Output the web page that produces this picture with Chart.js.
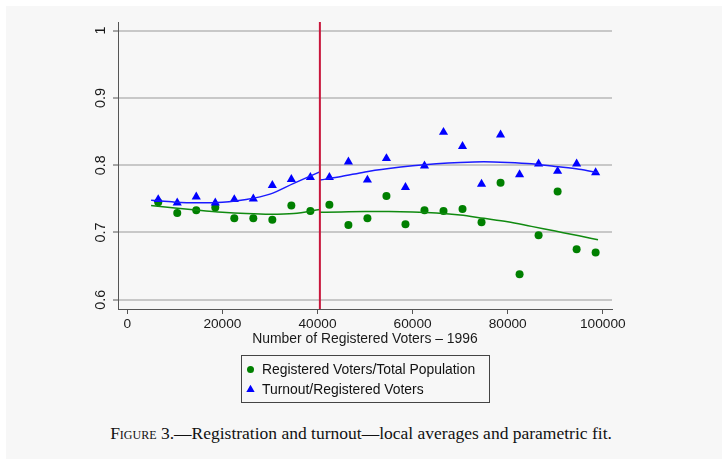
<!DOCTYPE html>
<html>
<head>
<meta charset="utf-8">
<script src="https://cdn.jsdelivr.net/npm/chart.js@4"></script>
<style>
  body { margin: 0; background: #fff; width: 722px; height: 459px; overflow: hidden; position: relative; }
  #panel { position: absolute; left: 6px; top: 6px; width: 716px; height: 453px; background: #f7f7f7; }
  #wrap { position: absolute; left: 0; top: 0; width: 716px; height: 410px; }
  #caption {
    position: absolute; left: 0; top: 423px; width: 722px; text-align: center;
    font-family: "Liberation Serif", "Times New Roman", serif; font-size: 17.5px; line-height: 20px; color: #111;
  }
</style>
</head>
<body>
<div id="panel">
  <div id="wrap"><canvas id="fig3"></canvas></div>
</div>
<div id="caption"><span style="font-variant: small-caps">Figure</span> 3.—Registration and turnout—local averages and parametric fit.</div>
<script>
const FONT = '"Liberation Sans", Arial, sans-serif';

// local averages, bins of 4000 registered voters
const binMid = [6500, 10500, 14500, 18500, 22500, 26500, 30500, 34500, 38500, 42500, 46500, 50500,
  54500, 58500, 62500, 66500, 70500, 74500, 78500, 82500, 86500, 90500, 94500, 98500];
const regShare = [0.745, 0.729, 0.733, 0.737, 0.721, 0.721, 0.719, 0.740, 0.732, 0.741, 0.711, 0.721,
  0.754, 0.712, 0.733, 0.732, 0.735, 0.715, 0.774, 0.638, 0.696, 0.761, 0.675, 0.670];
const turnout = [0.749, 0.744, 0.753, 0.744, 0.749, 0.750, 0.770, 0.779, 0.782, 0.782, 0.805, 0.778,
  0.810, 0.767, 0.799, 0.849, 0.828, 0.772, 0.845, 0.786, 0.802, 0.791, 0.802, 0.789];

// parametric fit, split at the 40500 threshold
const fitLeftX = [5000, 10000, 15000, 20000, 25000, 30000, 35000, 40500];
const regFitLeft = [0.740, 0.7365, 0.733, 0.730, 0.728, 0.727, 0.728, 0.734];
const turnFitLeft = [0.748, 0.745, 0.744, 0.745, 0.749, 0.757, 0.773, 0.790];
const fitRightX = [40500, 45000, 50000, 55000, 60000, 65000, 70000, 75000, 80000, 85000, 90000, 95000, 99000];
const regFitRight = [0.730, 0.7305, 0.731, 0.731, 0.7305, 0.729, 0.726, 0.721, 0.716, 0.709, 0.702, 0.695, 0.689];
const turnFitRight = [0.778, 0.783, 0.790, 0.795, 0.799, 0.802, 0.804, 0.805, 0.804, 0.802, 0.798, 0.794, 0.789];

const cutoff = 40500;
const xTicks = [0, 20000, 40000, 60000, 80000, 100000];
const yTicks = [0.6, 0.7, 0.8, 0.9, 1];
const yTickLabels = ['0.6', '0.7', '0.8', '0.9', '1'];

function pts(xs, ys) {
  return xs.map((x, i) => ({ x: x, y: ys[i] }));
}

function fitLine(xs, ys, color) {
  return {
    data: pts(xs, ys),
    showLine: true,
    borderColor: color,
    borderWidth: 1.5,
    pointRadius: 0,
    cubicInterpolationMode: 'monotone',
    order: 1,
  };
}

// red vertical line at the threshold
const cutoffLine = {
  id: 'cutoffLine',
  afterDatasetsDraw(chart) {
    const { ctx, chartArea } = chart;
    const x = chart.scales.x.getPixelForValue(cutoff);
    ctx.save();
    ctx.strokeStyle = '#c8163c';
    ctx.lineWidth = 2;
    ctx.beginPath();
    ctx.moveTo(x, chartArea.top);
    ctx.lineTo(x, chartArea.bottom);
    ctx.stroke();
    ctx.restore();
  },
};

// stata-style boxed legend, stacked items
const boxLegend = {
  id: 'boxLegend',
  afterDraw(chart) {
    const { ctx, chartArea } = chart;
    const items = chart.data.datasets.filter(d => d.inLegend);
    ctx.save();
    ctx.font = '13.9px ' + FONT;
    const textW = Math.max(...items.map(d => ctx.measureText(d.label).width));
    const w = Math.round(21 + textW + 14);
    const h = 47;
    const cx = (chartArea.left + chartArea.right) / 2;
    const left = Math.round(cx - w / 2);
    const top = Math.round(chartArea.bottom + 46);
    ctx.strokeStyle = '#444';
    ctx.lineWidth = 1;
    ctx.strokeRect(left + 0.5, top + 0.5, w, h);
    items.forEach((d, i) => {
      const y = top + 14.5 + i * 20;
      const mx = left + 9.5;
      ctx.fillStyle = d.backgroundColor;
      ctx.beginPath();
      if (d.pointStyle === 'triangle') {
        const r = 4.8;
        ctx.moveTo(mx, y - r);
        ctx.lineTo(mx + r * 0.866, y + r / 2);
        ctx.lineTo(mx - r * 0.866, y + r / 2);
        ctx.closePath();
      } else {
        ctx.arc(mx, y, 3.5, 0, Math.PI * 2);
      }
      ctx.fill();
      ctx.fillStyle = '#111';
      ctx.textBaseline = 'middle';
      ctx.textAlign = 'left';
      ctx.fillText(d.label, left + 21, y + 1);
    });
    ctx.restore();
  },
};

new Chart(document.getElementById('fig3'), {
  type: 'scatter',
  data: {
    datasets: [
      {
        label: 'Registered Voters/Total Population',
        inLegend: true,
        data: pts(binMid, regShare),
        backgroundColor: '#008000',
        borderWidth: 0,
        pointStyle: 'circle',
        pointRadius: 4,
        order: 3,
      },
      {
        label: 'Turnout/Registered Voters',
        inLegend: true,
        data: pts(binMid, turnout),
        backgroundColor: '#0000ff',
        borderWidth: 0,
        pointStyle: 'triangle',
        pointRadius: 5.3,
        order: 2,
      },
      fitLine(fitLeftX, regFitLeft, '#108a10'),
      fitLine(fitRightX, regFitRight, '#108a10'),
      fitLine(fitLeftX, turnFitLeft, '#1a1aff'),
      fitLine(fitRightX, turnFitRight, '#1a1aff'),
    ],
  },
  options: {
    responsive: true,
    maintainAspectRatio: false,
    animation: false,
    events: [],
    layout: { padding: { left: 82, right: 110, top: 16, bottom: 57 } },
    plugins: {
      legend: { display: false },
      tooltip: { enabled: false },
    },
    scales: {
      x: {
        type: 'linear',
        min: -1960,
        max: 101940,
        afterBuildTicks: s => { s.ticks = xTicks.map(v => ({ value: v })); },
        afterFit: s => { s.height = 50; },
        ticks: {
          callback: v => String(v),
          color: '#1a1a1a',
          font: { family: FONT, size: 13.7 },
          padding: 2,
          maxRotation: 0,
        },
        grid: { drawOnChartArea: false, tickLength: 5, tickColor: '#555', tickWidth: 1 },
        border: { color: '#555', width: 1 },
        title: {
          display: true,
          text: 'Number of Registered Voters – 1996',
          color: '#1a1a1a',
          font: { family: FONT, size: 13.9 },
          padding: { top: 0, bottom: 11 },
        },
      },
      y: {
        min: 0.5862,
        max: 1.0128,
        afterBuildTicks: s => { s.ticks = yTicks.map(v => ({ value: v })); },
        afterFit: s => { s.width = 30; },
        ticks: {
          callback: v => yTickLabels[yTicks.findIndex(t => Math.abs(t - v) < 1e-9)],
          color: '#1a1a1a',
          font: { family: FONT, size: 14.4 },
          minRotation: 90,
          maxRotation: 90,
          crossAlign: 'center',
          padding: 2,
        },
        grid: { color: '#c8c8c8', lineWidth: 2, tickLength: 5, tickColor: '#555', tickWidth: 1 },
        border: { color: '#555', width: 1 },
      },
    },
  },
  plugins: [cutoffLine, boxLegend],
});
</script>
</body>
</html>
